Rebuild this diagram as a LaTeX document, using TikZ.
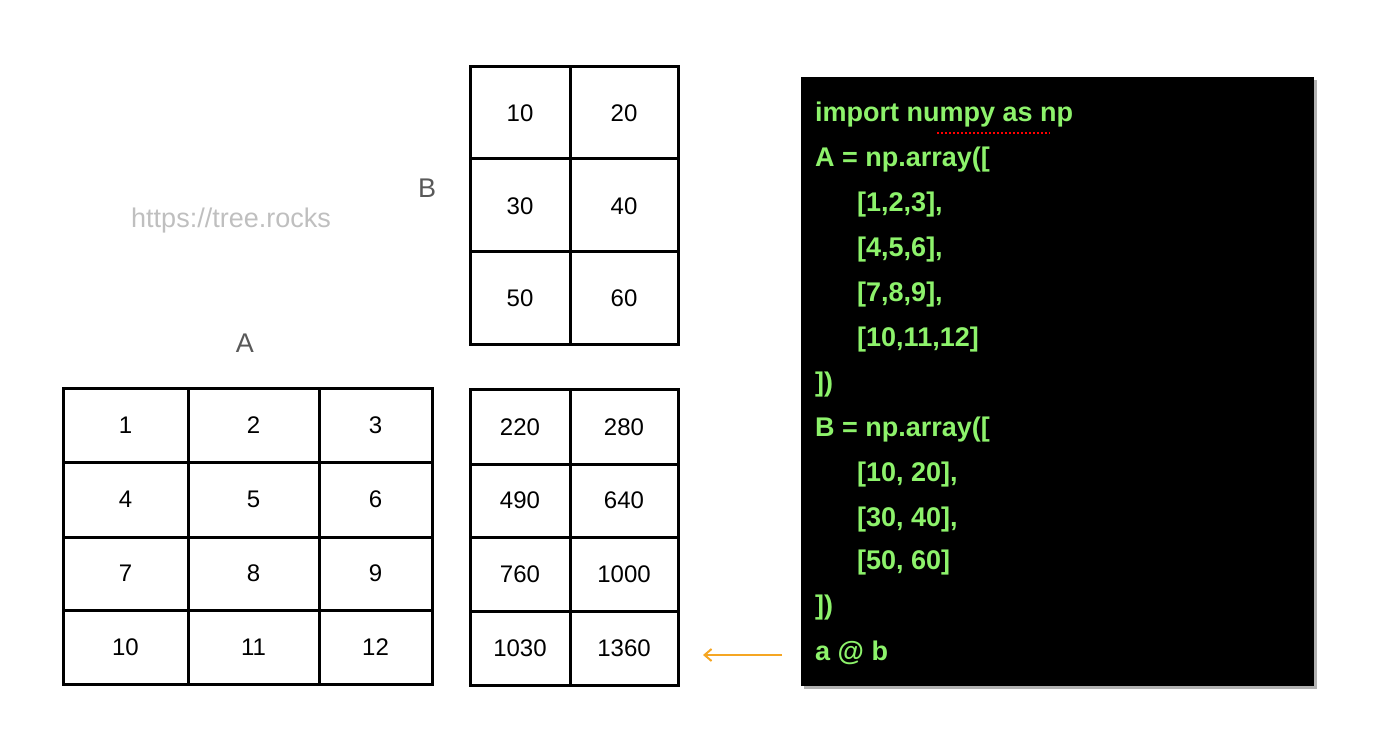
\documentclass[tikz,border=0pt]{standalone}
\usepackage{fontspec}
\setmainfont{Liberation Sans}
\usetikzlibrary{arrows.meta}
\definecolor{codegreen}{HTML}{8DF26B}
\definecolor{arrorange}{HTML}{F5A623}
\begin{document}
\begin{tikzpicture}[x=1pt,y=-1pt,
  grid/.style={line width=3pt,line cap=rect},
  num/.style={font=\fontsize{24}{24}\selectfont},
  code/.style={anchor=west,text=codegreen,font=\fontsize{27}{27}\selectfont\bfseries,inner sep=0pt}]
\useasboundingbox (0,0) rectangle (1400,751);
% matrix A
\foreach \x in {63,188,319,432} \draw[grid] (\x,388) -- (\x,684);
\foreach \y in {388,462,537,610,684} \draw[grid] (63,\y) -- (432,\y);
\foreach \v [count=\i from 0] in {1,...,12}{
  \pgfmathtruncatemacro\r{int(\i/3)}\pgfmathtruncatemacro\c{mod(\i,3)}
  \pgfmathsetmacro\cx{{125.5,253.5,375.5}[\c]}
  \pgfmathsetmacro\cy{{425,499.5,573.5,647}[\r]}
  \node[num] (a\i) at (\cx,\cy) {\v};}
% matrix B
\foreach \x in {470,570,678} \draw[grid] (\x,67) -- (\x,344);
\foreach \y in {67,159,252,344} \draw[grid] (470,\y) -- (678,\y);
\foreach \v/\px/\py [count=\i] in {10/520/113,20/624/113,30/520/206,40/624/206,50/520/298,60/624/298}
  \node[num] (b\i) at (\px,\py) {\v};
% result
\foreach \x in {470,570,678} \draw[grid] (\x,389) -- (\x,685);
\foreach \y in {389,464,537,611,685} \draw[grid] (470,\y) -- (678,\y);
\foreach \v/\px/\py [count=\i] in {220/520/427,280/624/427,490/520/500,640/624/500,760/520/574,1000/624/574,1030/520/648,1360/624/648}
  \node[num] (c\i) at (\px,\py) {\v};
% labels
\node[text=black!65,font=\fontsize{27}{27}\selectfont] (la) at (245,343) {A};
\node[text=black!65,font=\fontsize{27}{27}\selectfont] (lb) at (427,188) {B};
\node[text=black!25,font=\fontsize{27}{27}\selectfont] (url) at (231,221) {https://tree.rocks};
% code box
\fill[black!30] (804,80) rectangle (1317,689);
\fill[black] (801,77) rectangle (1314,686);
\node[code] (l1) at (815,115) {import numpy as np};
\node[code] (l2) at (815,160) {A = np.array([};
\node[code] (l3) at (857,205) {[1,2,3],};
\node[code] (l4) at (857,250) {[4,5,6],};
\node[code] (l5) at (857,295) {[7,8,9],};
\node[code] (l6) at (857,340) {[10,11,12]};
\node[code] (l7) at (815,385) {])};
\node[code] (l8) at (815,430) {B = np.array([};
\node[code] (l9) at (857,475) {[10, 20],};
\node[code] (l10) at (857,520) {[30, 40],};
\node[code] (l11) at (857,563) {[50, 60]};
\node[code] (l12) at (815,608) {])};
\node[code] (l13) at (815,653) {a @ b};
\draw[red,line width=1.5pt,dash pattern=on 2pt off 2pt] (937,133) -- (1050,133);
% arrow
\coordinate (s) at (782,655);
\draw[arrorange,line width=2pt,-{Straight Barb[length=7pt,width=12pt]}] (s) -- (703,655);
\end{tikzpicture}
\end{document}
